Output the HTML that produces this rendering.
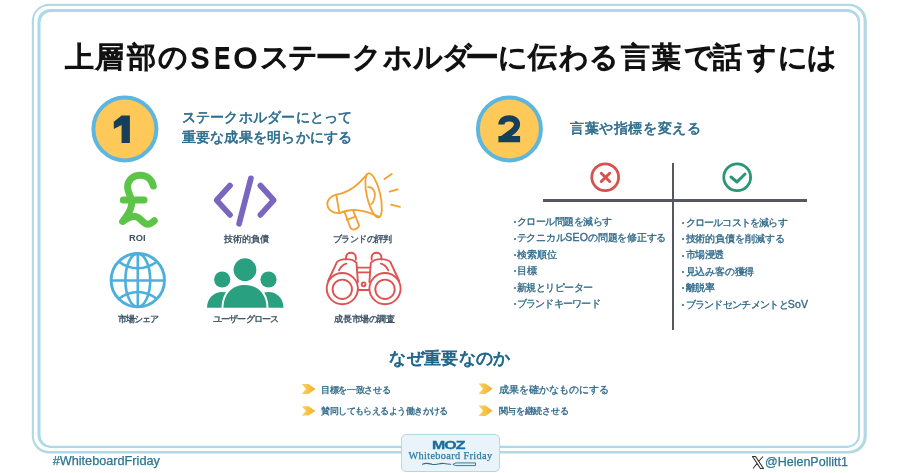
<!DOCTYPE html>
<html lang="ja">
<head>
<meta charset="utf-8">
<style>
html,body{margin:0;padding:0;background:#fff;}
body{width:900px;height:473px;position:relative;overflow:hidden;will-change:transform;font-family:"Liberation Sans",sans-serif;}
.a{position:absolute;white-space:nowrap;line-height:1;}
svg.a{left:0;top:0;}
#title span{position:absolute;top:0;width:29px;text-align:center;}
#title{left:0;top:43px;font-size:29px;color:#111;-webkit-text-stroke:1.4px #111;}
.sub{color:#2a6a8a;font-size:14.45px;-webkit-text-stroke:0.55px #2a6a8a;letter-spacing:0.25px;}
.lbl{color:#3a5062;font-size:9.3px;-webkit-text-stroke:0.35px #3a5062;}
.li{color:#2a6688;font-size:10.2px;-webkit-text-stroke:0.3px #2b6585;letter-spacing:-0.5px;}
.dot{position:absolute;width:2px;height:2px;border-radius:1px;background:#2b6585;}
.why{color:#2a6688;font-size:9.45px;-webkit-text-stroke:0.3px #2b6585;}
.num{font-weight:bold;color:#173a55;font-size:37px;}
.foot{color:#2b7592;font-size:13px;-webkit-text-stroke:0.25px #2b7592;}
</style>
</head>
<body>
<svg class="a" width="900" height="473" viewBox="0 0 900 473">
  <path fill="#b2d8e4" fill-rule="evenodd" d="M49.30 3.80H849.30A17.5 17.5 0 0 1 866.80 21.30V436.10A17.5 17.5 0 0 1 849.30 453.60H49.30A17.5 17.5 0 0 1 31.80 436.10V21.30A17.5 17.5 0 0 1 49.30 3.80ZM48.90 5.90H848.60A15 15 0 0 1 863.60 20.90V436.00A15 15 0 0 1 848.60 451.00H48.90A15 15 0 0 1 33.90 436.00V20.90A15 15 0 0 1 48.90 5.90Z"/>
  <path fill="#aad9e9" fill-rule="evenodd" d="M50.50 9.00H847.00A13 13 0 0 1 860.00 22.00V434.90A13 13 0 0 1 847.00 447.90H50.50A13 13 0 0 1 37.50 434.90V22.00A13 13 0 0 1 50.50 9.00ZM51.00 12.00H847.40A10.5 10.5 0 0 1 857.90 22.50V435.30A10.5 10.5 0 0 1 847.40 445.80H51.00A10.5 10.5 0 0 1 40.50 435.30V22.50A10.5 10.5 0 0 1 51.00 12.00Z"/>
</svg>

<div id="title" class="a">
<span style="left:65.0px">上</span>
<span style="left:94.9px">層</span>
<span style="left:126.7px">部</span>
<span style="left:157.8px">の</span>
<span style="left:184.7px;width:30px;-webkit-text-stroke:1.7px #111;top:-0.3px;font-size:30px;transform:scaleX(0.9)">S</span><span style="left:207px;width:30px;-webkit-text-stroke:1.9px #111;top:-0.3px;font-size:30px;transform:scaleX(0.76)">E</span><span style="left:230.5px;width:30px;-webkit-text-stroke:1.5px #111;top:-0.3px;font-size:30px">O</span>
<span style="left:260.4px">ス</span>
<span style="left:288.3px">テ</span>
<span style="left:318.5px;transform:scaleX(1.28)">ー</span>
<span style="left:351.6px">ク</span>
<span style="left:382.7px">ホ</span>
<span style="left:412.7px">ル</span>
<span style="left:441.6px">ダ</span>
<span style="left:467.8px;transform:scaleX(1.18)">ー</span>
<span style="left:497.8px">に</span>
<span style="left:528.3px">伝</span>
<span style="left:558.9px">わ</span>
<span style="left:588.8px">る</span>
<span style="left:620.5px">言</span>
<span style="left:651.8px">葉</span>
<span style="left:683.9px">で</span>
<span style="left:713.2px">話</span>
<span style="left:746.6px">す</span>
<span style="left:777.5px">に</span>
<span style="left:806.6px">は</span>
</div>

<svg class="a" width="900" height="473">
  <circle cx="124.9" cy="128.9" r="31.5" fill="#fec958" stroke="#5cb6de" stroke-width="4"/>
  <circle cx="509.4" cy="128.9" r="31.5" fill="#fec958" stroke="#5cb6de" stroke-width="4"/>
  <path fill="#173f5c" d="M121.6 115.5H129.9V142.9H121.6V125L113.8 129V121.8Z"/>
  <path fill="none" stroke="#173f5c" stroke-width="6.2" d="M501.4 124.6C501.4 120 505 118.3 509.3 118.3C514 118.3 517 120.8 517 124.3C517 127.3 515.4 129.2 512.3 131.6L502.3 139.1M498.4 139.1H520.1"/>
</svg>


<div class="a sub" style="left:181.7px;top:110px">ステークホルダーにとって</div>
<div class="a sub" style="left:181.7px;top:129.5px">重要な成果を明らかにする</div>
<div class="a sub" style="left:570px;top:120.5px;letter-spacing:0.6px">言葉や指標を変える</div>

<svg class="a" width="900" height="473" fill="none" stroke-linecap="round" stroke-linejoin="round">
  <!-- pound -->
  <g stroke="#5cc446" stroke-width="7">
    <path d="M153.3 186C151.5 179 146.5 175.2 140.5 175.2C133 175.2 127.6 180 127.6 187C127.6 193 131.7 196 131.7 203C131.7 211 126 217 122.6 221.5C127 218 131 216.5 135 216.5C140 216.5 143 224.3 147.5 224.3C150.5 224.3 152.5 222.5 154.3 220.8"/>
    <path d="M123.3 199.9H144"/>
  </g>
  <!-- code -->
  <g stroke="#7a66bf" stroke-width="5.7">
    <path d="M230 185.5L216.6 200.2L230 214.9"/>
    <path d="M250.9 178.3L239.1 223.8"/>
    <path d="M260.4 185.5L273.7 200.2L260.4 214.9"/>
  </g>
  <!-- megaphone -->
  <g stroke="#f0a232" stroke-width="1.8">
    <path d="M336.3 194.6C330 196 326.5 201 327.4 205C328 210 333 213.5 339.3 213.1Z"/>
    <path d="M336.3 194.6C350 192 358 185 367.4 173.9"/>
    <path d="M339.3 213.1C345 211 352 209.5 357 210.2C366 211 373 214 379.2 216.8"/>
    <ellipse cx="373.6" cy="195.4" rx="6.7" ry="22.5" transform="rotate(-13 373.6 195.4)"/>
    <path d="M368.1 187.2C373 187 375.5 192 374.8 196C374.3 200 373 203 371.1 204.2"/>
    <path d="M344.4 211.6L350.4 227.7C352 231 357.5 229.5 359.2 225.7L353.3 210.9"/>
    <path d="M346.7 219.8L354.8 216.8"/>
    <path d="M384.4 179.1L391.8 173.9"/>
    <path d="M389.6 191.7L397.7 189.4"/>
    <path d="M391.1 204.7L400 206.9"/>
  </g>
  <!-- globe -->
  <g stroke="#4db0da" stroke-width="2.6" stroke-linecap="butt">
    <circle cx="137.8" cy="280.2" r="26.7" stroke-width="2.9"/>
    <ellipse cx="137.8" cy="280.2" rx="12.4" ry="26.6"/>
    <path d="M137.8 253.6V306.8M111.2 280.5H164.4"/>
    <path d="M118.5 261.5C124.5 266 131 268.3 137.8 268.3C144.6 268.3 151.1 266 157.1 261.5"/>
    <path d="M118.5 299C124.5 294.5 131 292 137.8 292C144.6 292 151.1 294.5 157.1 299"/>
  </g>
  <!-- binoculars -->
  <g stroke="#e05252" stroke-width="1.9">
    <circle cx="342.3" cy="288.6" r="15.6"/>
    <circle cx="342.3" cy="289.3" r="9.7"/>
    <circle cx="385" cy="288.6" r="15.6"/>
    <circle cx="385" cy="289.3" r="9.7"/>
    <circle cx="363.6" cy="284.3" r="1.9"/>
    <path d="M328.1 281L336.9 262.2C340 258.5 352 257.5 356.5 262.9L357.9 282"/>
    <path d="M399.2 281L390.4 262.2C387.3 258.5 375.3 257.5 370.8 262.9L369.4 282"/>
    <path d="M346 259.5V257.5C346 251.2 355.8 251.2 355.8 257.5V259.5"/>
    <path d="M381.4 259.5V257.5C381.4 251.2 371.6 251.2 371.6 257.5V259.5"/>
    <path d="M339 270.3C340.5 267 343 264.5 346.4 263.6"/>
    <path d="M388.3 270.3C386.8 267 384.3 264.5 380.9 263.6"/>
    <path d="M357.5 267.6H369.6M357.6 272.4H369.6M358 290H369.2"/>
  </g>
</svg>
<svg class="a" width="900" height="473">
  <g fill="#29a07f">
    <circle cx="245" cy="269.7" r="11.4"/>
    <circle cx="222.2" cy="279.5" r="8.1"/>
    <circle cx="268.5" cy="279.5" r="8.1"/>
    <path d="M207 307.8C207 298 214 291.9 222.2 291.9C230 291.9 237 298 237 307.8Z"/>
    <path d="M283.5 307.8C283.5 298 276.5 291.9 268.5 291.9C260.5 291.9 253.5 298 253.5 307.8Z"/>
    <path d="M223.5 307.8C223.5 293 233 285 245 285C257 285 266.5 293 266.5 307.8Z" stroke="#fff" stroke-width="4" paint-order="stroke"/>
  </g>
</svg>

<div class="a lbl" style="left:129px;top:234px;font-weight:bold;-webkit-text-stroke:0">ROI</div>
<div class="a lbl" style="left:224.3px;top:234.5px">技術的負債</div>
<div class="a lbl" style="left:333px;top:234.5px;letter-spacing:-0.6px">ブランドの評判</div>
<div class="a lbl" style="left:117.6px;top:315px;letter-spacing:-1px">市場シェア</div>
<div class="a lbl" style="left:212.8px;top:315px;letter-spacing:-0.8px">ユーザーグロース</div>
<div class="a lbl" style="left:334.4px;top:315px;letter-spacing:-0.4px">成長市場の調査</div>

<div class="a" style="left:543.4px;top:199px;width:264px;height:3px;background:#55595d"></div>
<div class="a" style="left:671.8px;top:162.6px;width:2.5px;height:167px;background:#55595d"></div>
<svg class="a" width="900" height="473" fill="none" stroke-linecap="round" stroke-linejoin="round">
  <circle cx="605.2" cy="177.3" r="13.4" stroke="#d9504f" stroke-width="2.8"/>
  <path d="M601.3 173.3L609.7 181.5M609.7 173.3L601.3 181.5" stroke="#d9504f" stroke-width="3"/>
  <circle cx="737.2" cy="177.3" r="13.4" stroke="#2a9673" stroke-width="2.8"/>
  <path d="M731 177L737 182L745 174" stroke="#2a9673" stroke-width="3"/>
</svg>

<div class="dot" style="left:513.8px;top:221.2px"></div>
<div class="dot" style="left:513.8px;top:237.6px"></div>
<div class="dot" style="left:513.8px;top:254px"></div>
<div class="dot" style="left:513.8px;top:270.4px"></div>
<div class="dot" style="left:513.8px;top:286.8px"></div>
<div class="dot" style="left:513.8px;top:303.2px"></div>
<div class="a li" style="left:516.5px;top:217px">クロール問題を減らす</div>
<div class="a li" style="left:516.5px;top:233.4px;letter-spacing:-0.25px">テクニカル<span style="font-size:10.5px;letter-spacing:0.2px;line-height:0">SEO</span>の問題を修正する</div>
<div class="a li" style="left:516.5px;top:249.8px;letter-spacing:0.1px">検索順位</div>
<div class="a li" style="left:516.5px;top:266.2px;letter-spacing:0.1px">目標</div>
<div class="a li" style="left:516.5px;top:282.6px">新規とリピーター</div>
<div class="a li" style="left:516.5px;top:299px;letter-spacing:-0.75px">ブランドキーワード</div>

<div class="dot" style="left:682px;top:221.8px"></div>
<div class="dot" style="left:682px;top:238.2px"></div>
<div class="dot" style="left:682px;top:254.6px"></div>
<div class="dot" style="left:682px;top:271px"></div>
<div class="dot" style="left:682px;top:287.4px"></div>
<div class="dot" style="left:682px;top:303.8px"></div>
<div class="a li" style="left:685.5px;top:217.6px;letter-spacing:-0.8px">クロールコストを減らす</div>
<div class="a li" style="left:685.5px;top:234px;letter-spacing:-0.05px">技術的負債を削減する</div>
<div class="a li" style="left:685.5px;top:250.4px">市場浸透</div>
<div class="a li" style="left:685.5px;top:266.8px;letter-spacing:-0.2px">見込み客の獲得</div>
<div class="a li" style="left:685.5px;top:283.2px">離脱率</div>
<div class="a li" style="left:685.5px;top:299.6px;letter-spacing:-0.7px">ブランドセンチメントと<span style="font-size:10.5px;letter-spacing:0.2px;line-height:0">SoV</span></div>

<div class="a" style="left:389.4px;top:349.8px;font-size:17.2px;letter-spacing:0.35px;color:#1b6487;-webkit-text-stroke:0.8px #1b6487">なぜ重要なのか</div>

<svg class="a" width="900" height="473">
  <defs><linearGradient id="ag" x1="0" y1="0" x2="1" y2="0"><stop offset="0" stop-color="#f9d65a"/><stop offset="1" stop-color="#f2ac32"/></linearGradient></defs>
  <path fill="url(#ag)" d="M301.7 384H308.5L315.5 389L308.5 393.9H301.7L306 389Z"/>
  <path fill="url(#ag)" d="M301.7 406.2H308.5L315.5 411L308.5 415.6H301.7L306 411Z"/>
  <path fill="url(#ag)" d="M478.5 383.5H485.5L492.7 388.7L485.5 393.9H478.5L483 388.7Z"/>
  <path fill="url(#ag)" d="M478.5 405.5H485.5L492.7 410.7L485.5 415.9H478.5L483 410.7Z"/>
</svg>
<div class="a why" style="left:321.2px;top:385px;letter-spacing:-0.36px">目標を一致させる</div>
<div class="a why" style="left:321.2px;top:406px;letter-spacing:-0.55px">賛同してもらえるよう働きかける</div>
<div class="a why" style="left:498.7px;top:385px;font-size:10.2px">成果を確かなものにする</div>
<div class="a why" style="left:498.7px;top:406px;letter-spacing:-0.3px">関与を継続させる</div>

<div class="a foot" style="left:52.7px;top:455px;font-size:12.7px">#WhiteboardFriday</div>
<div class="a foot" style="left:765px;top:455.5px;font-size:12.5px">@HelenPollitt1</div>
<svg class="a" style="left:752px;top:456px" width="12" height="13" viewBox="0 0 12 13"><path d="M0.5 0.5H3.5L11.5 12.5H8.5Z M1 12.5L5 7.5M7 5L11 0.5" fill="none" stroke="#333" stroke-width="1.1"/></svg>

<div class="a" style="left:400.5px;top:434.3px;width:97.5px;height:36px;background:#e8f4f9;border:1.2px solid #b3d8e6;border-radius:5px"></div>
<div class="a" style="left:432.3px;top:439.6px;font-size:10.6px;font-weight:bold;color:#1a6d9b;transform:scaleX(1.5);transform-origin:0 0;letter-spacing:-0.6px;-webkit-text-stroke:0.3px #1a6d9b">MOZ</div>
<div class="a" style="left:408.4px;top:451px;font-family:'Liberation Serif',serif;font-size:10.3px;color:#2b7aa5;-webkit-text-stroke:0.25px #2b7aa5;letter-spacing:0.35px">Whiteboard Friday</div>
<svg class="a" width="900" height="473" fill="none" stroke-linecap="round">
  <path d="M422.5 464.3C426 462.5 429 463.5 432 464.3C436 465.2 440 462.8 444 463.5C446.5 464 448.5 464.3 450.6 464.2" stroke="#2a6f8f" stroke-width="1.1"/>
  <path d="M453.2 464.2L456 462.9H475.5V465.6H456Z" stroke="#2a6f8f" stroke-width="0.9" fill="#dff0f6"/>
</svg>
</body>
</html>
